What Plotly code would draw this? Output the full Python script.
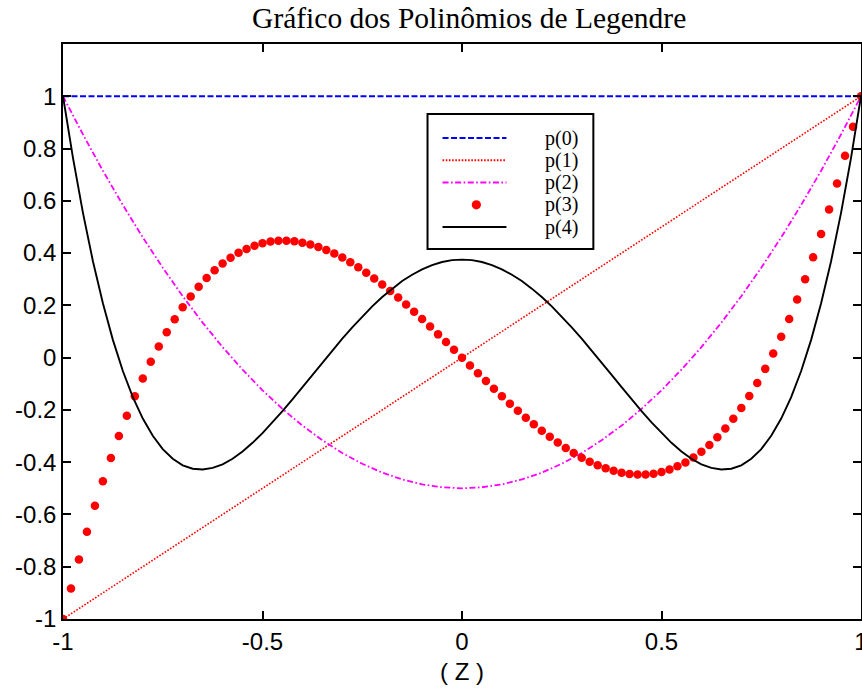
import plotly.graph_objects as go

# ---- data ----
x_p0 = [-1.0, -0.5, 0.0, 0.5, 1.0]
y_p0 = [1.0, 1.0, 1.0, 1.0, 1.0]

x_p1 = [-1.0, -0.5, 0.0, 0.5, 1.0]
y_p1 = [-1.0, -0.5, 0.0, 0.5, 1.0]

x_p2 = [-1.0, -0.95, -0.9, -0.85, -0.8, -0.75, -0.7, -0.65, -0.6, -0.55, -0.5,
        -0.45, -0.4, -0.35, -0.3, -0.25, -0.2, -0.15, -0.1, -0.05, 0.0,
        0.05, 0.1, 0.15, 0.2, 0.25, 0.3, 0.35, 0.4, 0.45, 0.5,
        0.55, 0.6, 0.65, 0.7, 0.75, 0.8, 0.85, 0.9, 0.95, 1.0]
y_p2 = [1.0, 0.854, 0.715, 0.584, 0.46, 0.344, 0.235, 0.134, 0.04, -0.046, -0.125,
        -0.196, -0.26, -0.316, -0.365, -0.406, -0.44, -0.466, -0.485, -0.496, -0.5,
        -0.496, -0.485, -0.466, -0.44, -0.406, -0.365, -0.316, -0.26, -0.196, -0.125,
        -0.046, 0.04, 0.134, 0.235, 0.344, 0.46, 0.584, 0.715, 0.854, 1.0]

x_p3 = [-1.0, -0.98, -0.96, -0.94, -0.92, -0.9, -0.88, -0.86, -0.84, -0.82,
        -0.8, -0.78, -0.76, -0.74, -0.72, -0.7, -0.68, -0.66, -0.64, -0.62,
        -0.6, -0.58, -0.56, -0.54, -0.52, -0.5, -0.48, -0.46, -0.44, -0.42,
        -0.4, -0.38, -0.36, -0.34, -0.32, -0.3, -0.28, -0.26, -0.24, -0.22,
        -0.2, -0.18, -0.16, -0.14, -0.12, -0.1, -0.08, -0.06, -0.04, -0.02,
        0.0,
        0.02, 0.04, 0.06, 0.08, 0.1, 0.12, 0.14, 0.16, 0.18, 0.2,
        0.22, 0.24, 0.26, 0.28, 0.3, 0.32, 0.34, 0.36, 0.38, 0.4,
        0.42, 0.44, 0.46, 0.48, 0.5, 0.52, 0.54, 0.56, 0.58, 0.6,
        0.62, 0.64, 0.66, 0.68, 0.7, 0.72, 0.74, 0.76, 0.78, 0.8,
        0.82, 0.84, 0.86, 0.88, 0.9, 0.92, 0.94, 0.96, 0.98, 1.0]
y_p3 = [-1.0, -0.883, -0.772, -0.666, -0.567, -0.473, -0.384, -0.300, -0.222, -0.148,
        -0.080, -0.016, 0.043, 0.097, 0.147, 0.193, 0.234, 0.271, 0.305, 0.334,
        0.360, 0.382, 0.401, 0.416, 0.428, 0.438, 0.444, 0.447, 0.447, 0.445,
        0.440, 0.433, 0.423, 0.412, 0.398, 0.383, 0.365, 0.346, 0.325, 0.303,
        0.280, 0.255, 0.230, 0.203, 0.176, 0.148, 0.119, 0.089, 0.060, 0.030,
        0.0,
        -0.030, -0.060, -0.089, -0.119, -0.148, -0.176, -0.203, -0.230, -0.255, -0.280,
        -0.303, -0.325, -0.346, -0.365, -0.383, -0.398, -0.412, -0.423, -0.433, -0.440,
        -0.445, -0.447, -0.447, -0.444, -0.438, -0.428, -0.416, -0.401, -0.382, -0.360,
        -0.334, -0.305, -0.271, -0.234, -0.193, -0.147, -0.097, -0.043, 0.016, 0.080,
        0.148, 0.222, 0.300, 0.384, 0.473, 0.567, 0.666, 0.772, 0.883, 1.0]

x_p4 = [-1.0, -0.975, -0.95, -0.925, -0.9, -0.875, -0.85, -0.825, -0.8, -0.775,
        -0.75, -0.725, -0.7, -0.675, -0.65, -0.625, -0.6, -0.575, -0.55, -0.525,
        -0.5, -0.475, -0.45, -0.425, -0.4, -0.375, -0.35, -0.325, -0.3, -0.275,
        -0.25, -0.225, -0.2, -0.175, -0.15, -0.125, -0.1, -0.075, -0.05, -0.025,
        0.0,
        0.025, 0.05, 0.075, 0.1, 0.125, 0.15, 0.175, 0.2, 0.225, 0.25,
        0.275, 0.3, 0.325, 0.35, 0.375, 0.4, 0.425, 0.45, 0.475, 0.5,
        0.525, 0.55, 0.575, 0.6, 0.625, 0.65, 0.675, 0.7, 0.725, 0.75,
        0.775, 0.8, 0.825, 0.85, 0.875, 0.9, 0.925, 0.95, 0.975, 1.0]
y_p4 = [1.0, 0.764, 0.554, 0.369, 0.208, 0.068, -0.051, -0.151, -0.233, -0.299,
        -0.350, -0.387, -0.412, -0.425, -0.428, -0.422, -0.408, -0.387, -0.359, -0.326,
        -0.289, -0.248, -0.205, -0.160, -0.113, -0.066, -0.019, 0.028, 0.073, 0.116,
        0.158, 0.196, 0.232, 0.264, 0.293, 0.317, 0.338, 0.354, 0.366, 0.373,
        0.375,
        0.373, 0.366, 0.354, 0.338, 0.317, 0.293, 0.264, 0.232, 0.196, 0.158,
        0.116, 0.073, 0.028, -0.019, -0.066, -0.113, -0.160, -0.205, -0.248, -0.289,
        -0.326, -0.359, -0.387, -0.408, -0.422, -0.428, -0.425, -0.412, -0.387, -0.350,
        -0.299, -0.233, -0.151, -0.051, 0.068, 0.208, 0.369, 0.554, 0.764, 1.0]

x_ticks = [-1, -0.5, 0, 0.5, 1]
x_ticktext = ["-1", "-0.5", "0", "0.5", "1"]
y_ticks = [-1, -0.8, -0.6, -0.4, -0.2, 0, 0.2, 0.4, 0.6, 0.8, 1]
y_ticktext = ["-1", "-0.8", "-0.6", "-0.4", "-0.2", "0", "0.2", "0.4", "0.6", "0.8", "1"]

legend_names = ["p(0)", "p(1)", "p(2)", "p(3)", "p(4)"]

BLUE = "rgb(0,0,255)"
RED = "rgb(255,0,0)"
MAG = "rgb(255,0,255)"
BLACK = "rgb(0,0,0)"

DASH0 = "6px,2.5px"
DASH1 = "1.6px,1.6px"
DASH2 = "6px,2.5px,1.6px,2.5px"

fig = go.Figure()
fig.add_trace(go.Scatter(x=x_p0, y=y_p0, mode="lines", name=legend_names[0],
                         line=dict(color=BLUE, width=1.8, dash=DASH0), showlegend=False))
fig.add_trace(go.Scatter(x=x_p1, y=y_p1, mode="lines", name=legend_names[1],
                         line=dict(color=RED, width=1.6, dash=DASH1), showlegend=False))
fig.add_trace(go.Scatter(x=x_p2, y=y_p2, mode="lines", name=legend_names[2],
                         line=dict(color=MAG, width=1.8, dash=DASH2), showlegend=False))
fig.add_trace(go.Scatter(x=x_p3, y=y_p3, mode="markers", name=legend_names[3],
                         marker=dict(color=RED, size=8.5, line=dict(width=0)), showlegend=False))
fig.add_trace(go.Scatter(x=x_p4, y=y_p4, mode="lines", name=legend_names[4],
                         line=dict(color=BLACK, width=1.9), showlegend=False))

# ---- custom legend box (paper coordinates) ----
shapes = []
annotations = []
shapes.append(dict(type="rect", xref="paper", yref="paper",
                   x0=0.4568, x1=0.6646, y0=0.6435, y1=0.8783,
                   line=dict(color=BLACK, width=2), fillcolor="white", layer="above"))
row_y = [0.8365, 0.7978, 0.7591, 0.7204, 0.6817]
styles = [(BLUE, DASH0), (RED, DASH1), (MAG, DASH2), None, (BLACK, "solid")]
for i, st in enumerate(styles):
    if st is None:
        r = 0.0058
        shapes.append(dict(type="circle", xref="paper", yref="paper",
                           x0=0.518 - r, x1=0.518 + r,
                           y0=row_y[i] - r * 799 / 575, y1=row_y[i] + r * 799 / 575,
                           fillcolor=RED, line=dict(width=0), layer="above"))
    else:
        shapes.append(dict(type="line", xref="paper", yref="paper",
                           x0=0.4756, x1=0.5557, y0=row_y[i], y1=row_y[i],
                           line=dict(color=st[0], width=1.8, dash=st[1]), layer="above"))
    annotations.append(dict(xref="paper", yref="paper", x=0.6033, y=row_y[i],
                            xanchor="left", yanchor="middle", showarrow=False,
                            text=legend_names[i], borderpad=0, valign="middle",
                            font=dict(family="Liberation Serif, Times New Roman, serif",
                                      size=20, color=BLACK)))

fig.update_layout(
    width=862, height=694,
    margin=dict(l=63, r=1, t=44, b=75, autoexpand=False),
    paper_bgcolor="white", plot_bgcolor="white",
    showlegend=False,
    title=dict(text="Gráfico dos Polinômios de Legendre",
               x=0.509, xref="paper", xanchor="center",
               y=1 - 18 / 694, yref="container", yanchor="middle",
               font=dict(family="Liberation Serif, Times New Roman, serif", size=29.5, color=BLACK)),
    font=dict(family="Liberation Sans, Arial, sans-serif", size=24, color=BLACK),
    shapes=shapes,
    annotations=annotations,
)
fig.update_xaxes(range=[-1, 1], tickmode="array", tickvals=x_ticks, ticktext=x_ticktext,
                 ticks="inside", ticklen=8, tickwidth=1.5, tickcolor=BLACK,
                 showline=True, linecolor=BLACK, linewidth=1.5, mirror="ticks",
                 showgrid=False, zeroline=False, ticklabeloverflow="allow",
                 automargin=False,
                 tickfont=dict(size=24),
                 title=dict(text="( Z )", font=dict(size=24), standoff=10))
fig.update_yaxes(range=[-1, 1.2], tickmode="array", tickvals=y_ticks, ticktext=y_ticktext,
                 ticks="inside", ticklen=8, tickwidth=1.5, tickcolor=BLACK,
                 showline=True, linecolor=BLACK, linewidth=1.5, mirror="ticks",
                 showgrid=False, zeroline=False, automargin=False,
                 tickfont=dict(size=24))

fig.write_html("out.html")
